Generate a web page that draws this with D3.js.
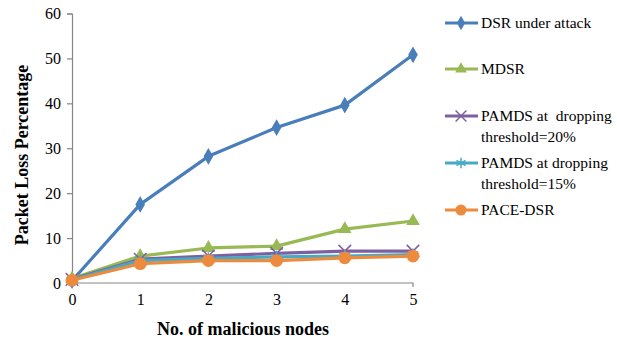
<!DOCTYPE html>
<html>
<head>
<meta charset="utf-8">
<script src="https://cdn.jsdelivr.net/npm/d3@7"></script>
<style>
  body { margin: 0; background: #fff; }
  svg text { font-family: 'Liberation Serif', 'DejaVu Serif', serif !important; }
</style>
</head>
<body>
<div class="chart"></div>
<script>
// Data
const nodes = [0, 1, 2, 3, 4, 5];
const yTicks = [0, 10, 20, 30, 40, 50, 60];
const dsr = [0.5, 17.5, 28.2, 34.6, 39.6, 50.8];
const mdsr = [1.0, 6.0, 7.8, 8.2, 12.0, 13.8];
const pamds20 = [0.8, 5.3, 6.0, 6.6, 7.1, 7.1];
const pamds15 = [0.7, 5.0, 5.5, 5.8, 6.0, 6.3];
const paceDsr = [0.6, 4.3, 5.0, 5.0, 5.6, 6.0];
const seriesNames = ['DSR under attack', 'MDSR', 'PAMDS at  dropping\nthreshold=20%', 'PAMDS at dropping\nthreshold=15%', 'PACE-DSR'];

const w = 617;
const h = 343;
const font = "'Liberation Serif', 'DejaVu Serif', serif";

const series = [
  { name: seriesNames[0], values: dsr, color: '#4a7ebb', symbol: 'diamond' },
  { name: seriesNames[1], values: mdsr, color: '#98b954', symbol: 'triangle' },
  { name: seriesNames[2], values: pamds20, color: '#7d60a0', symbol: 'x' },
  { name: seriesNames[3], values: pamds15, color: '#46aac5', symbol: 'star' },
  { name: seriesNames[4], values: paceDsr, color: '#ec8a3e', symbol: 'circle' },
];

const svg = d3.select('.chart').append('svg').attr('width', w).attr('height', h)
  .attr('font-family', font);

const xScale = d3.scalePoint().domain(nodes).range([72, 413]);
const yScale = d3.scaleLinear().domain([0, 60]).range([283, 13.5]);

// Axes
const yAxis = d3.axisLeft(yScale).tickValues(yTicks).tickSize(5).tickPadding(6).tickFormat(d3.format('d'));
const yAxisG = svg.append('g').attr('transform', 'translate(72,0)').call(yAxis).attr('font-family', font);
yAxisG.select('.domain').attr('stroke', '#868686').attr('stroke-width', 1.2);
yAxisG.selectAll('.tick line').attr('stroke', '#868686').attr('stroke-width', 1.2);
yAxisG.selectAll('.tick text').style('font-size', '16px').attr('fill', '#000');

const xAxis = d3.axisBottom(xScale).tickSize(0).tickPadding(11);
const xAxisG = svg.append('g').attr('transform', 'translate(0,283)').call(xAxis).attr('font-family', font);
xAxisG.select('.domain').attr('stroke', '#868686').attr('stroke-width', 1.2)
  .attr('d', 'M72,0H413V4');
xAxisG.selectAll('.tick text').style('font-size', '16px').attr('fill', '#000');

// Axis titles
svg.append('text')
  .attr('transform', 'rotate(-90)')
  .attr('x', -155)
  .attr('y', 28)
  .attr('text-anchor', 'middle')
  .style('font-size', '18px')
  .style('font-weight', 'bold')
  .text('Packet Loss Percentage');

svg.append('text')
  .attr('x', 243)
  .attr('y', 335)
  .attr('text-anchor', 'middle')
  .style('font-size', '18px')
  .style('font-weight', 'bold')
  .text('No. of malicious nodes');

const line = d3.line()
  .x((d, i) => xScale(nodes[i]))
  .y((d) => yScale(d));

function drawMarker(g, type, color, size) {
  if (type === 'x') {
    g.append('path')
      .attr('d', d3.symbol(d3.symbolTimes, size * 1.3)())
      .attr('fill', 'none').attr('stroke', color).attr('stroke-width', 1.5);
  } else if (type === 'star') {
    g.append('path')
      .attr('d', d3.symbol(d3.symbolAsterisk, size * 1.3)())
      .attr('fill', 'none').attr('stroke', color).attr('stroke-width', 1.5);
  } else {
    const sym = { diamond: d3.symbolDiamond, triangle: d3.symbolTriangle, circle: d3.symbolCircle }[type];
    g.append('path')
      .attr('d', d3.symbol(sym, type === 'circle' ? size * 1.6 : size)())
      .attr('fill', color);
  }
}

// Lines and markers
series.forEach((s) => {
  svg.append('path')
    .datum(s.values)
    .attr('fill', 'none')
    .attr('stroke', s.color)
    .attr('stroke-width', 3.2)
    .attr('stroke-linejoin', 'round')
    .attr('d', line);
  s.values.forEach((v, i) => {
    const g = svg.append('g').attr('transform', `translate(${xScale(nodes[i])},${yScale(v)})`);
    drawMarker(g, s.symbol, s.color, 80);
  });
});

// Legend
const legendY = [23, 69, 116, 163, 210];
series.forEach((s, i) => {
  const g = svg.append('g').attr('transform', `translate(0,${legendY[i]})`);
  g.append('line').attr('x1', 445).attr('x2', 478).attr('y1', 0).attr('y2', 0)
    .attr('stroke', s.color).attr('stroke-width', 3.2);
  const mg = g.append('g').attr('transform', 'translate(461,0)');
  drawMarker(mg, s.symbol, s.color, 60);
  const t = g.append('text').attr('x', 481).attr('y', 5).style('font-size', '15.5px').attr('fill', '#000');
  s.name.split('\n').forEach((part, j) => {
    t.append('tspan').attr('x', 481).attr('dy', j === 0 ? 0 : 21).style('white-space', 'pre').text(part);
  });
});
</script>
</body>
</html>
